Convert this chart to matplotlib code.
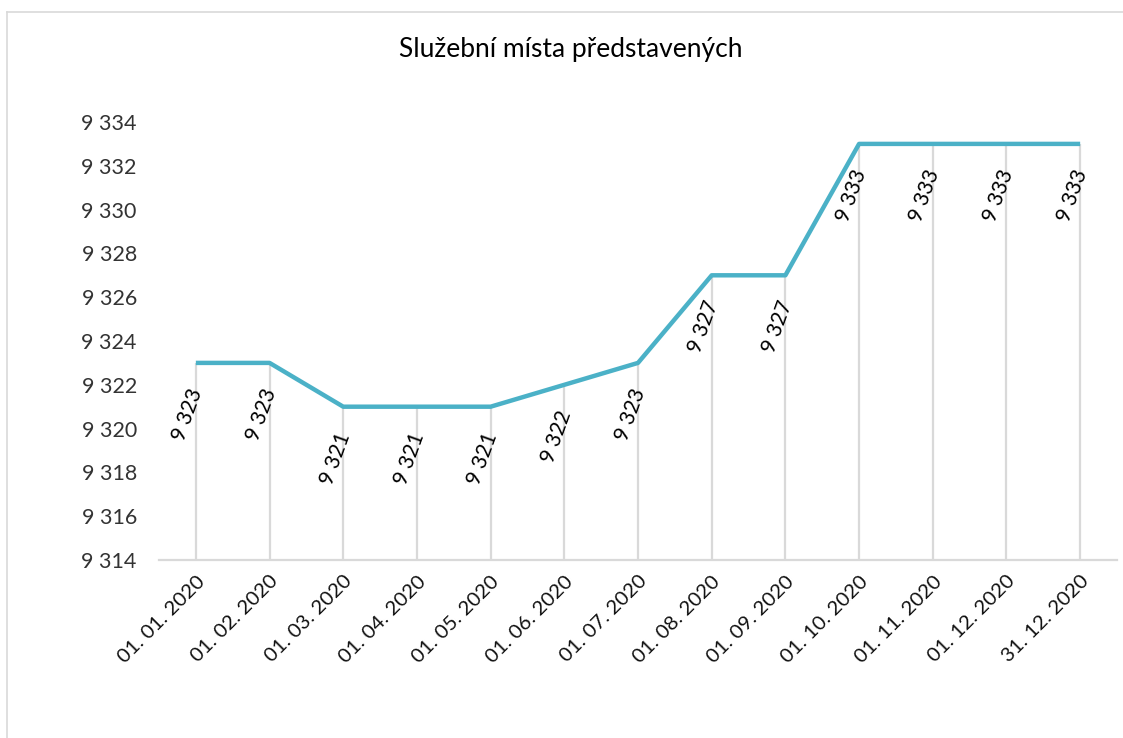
import matplotlib
matplotlib.use("Agg")
import matplotlib.pyplot as plt
from matplotlib.lines import Line2D
from matplotlib.ticker import FuncFormatter

plt.rcParams['font.family'] = ['Lato', 'DejaVu Sans']

dates = ["01. 01. 2020", "01. 02. 2020", "01. 03. 2020", "01. 04. 2020",
         "01. 05. 2020", "01. 06. 2020", "01. 07. 2020", "01. 08. 2020",
         "01. 09. 2020", "01. 10. 2020", "01. 11. 2020", "01. 12. 2020",
         "31. 12. 2020"]
values = [9323, 9323, 9321, 9321, 9321, 9322, 9323, 9327, 9327, 9333, 9333, 9333, 9333]
y_ticks = list(range(9314, 9335, 2))
title = "Služební místa představených"

W, H = 1123, 738
fig = plt.figure(figsize=(W / 100, H / 100), dpi=100)
ax = fig.add_axes([159 / W, 1 - 560 / H, (1117 - 159) / W, (560 - 122) / H])

x = list(range(len(values)))
ymin, ymax = 9314, 9334
ax.vlines(x, ymin, values, colors="#D9D9D9", linewidth=1.6, zorder=1)
ax.plot(x, values, color="#4BB1C7", linewidth=3.2, solid_capstyle="butt", zorder=3)

fmt = lambda v: f"{int(v):,}".replace(",", " ")
for xi, v in zip(x, values):
    ax.annotate(fmt(v), (xi, v), xytext=(1, -19), textcoords="offset points",
                rotation=70, rotation_mode="anchor", ha="right", va="center",
                fontsize=15, color="#000000", zorder=4)

ax.set_xlim(-0.5, len(values) - 0.5)
ax.set_ylim(ymin, ymax)
ax.set_yticks(y_ticks)
ax.yaxis.set_major_formatter(FuncFormatter(lambda v, p: fmt(v)))
ax.set_xticks(x)
ax.set_xticklabels(dates, rotation=45, ha="right", rotation_mode="anchor")
ax.tick_params(axis="y", length=0, pad=16, labelsize=15.5, labelcolor="#333333")
ax.tick_params(axis="x", length=0, pad=9, labelsize=14.7, labelcolor="#111111")

for s in ["top", "right", "left"]:
    ax.spines[s].set_visible(False)
ax.spines["bottom"].set_color("#D9D9D9")
ax.spines["bottom"].set_linewidth(1.6)

fig.text(571 / W, 1 - 50 / H, title, ha="center", va="center", fontsize=19, color="#000000")

fig.add_artist(Line2D([7 / W, 1.0], [1 - 12 / H, 1 - 12 / H], color="#D9D9D9", linewidth=1.2, transform=fig.transFigure))
fig.add_artist(Line2D([7 / W, 7 / W], [0, 1 - 12 / H], color="#D9D9D9", linewidth=1.2, transform=fig.transFigure))

fig.savefig("out.png", dpi=100)
